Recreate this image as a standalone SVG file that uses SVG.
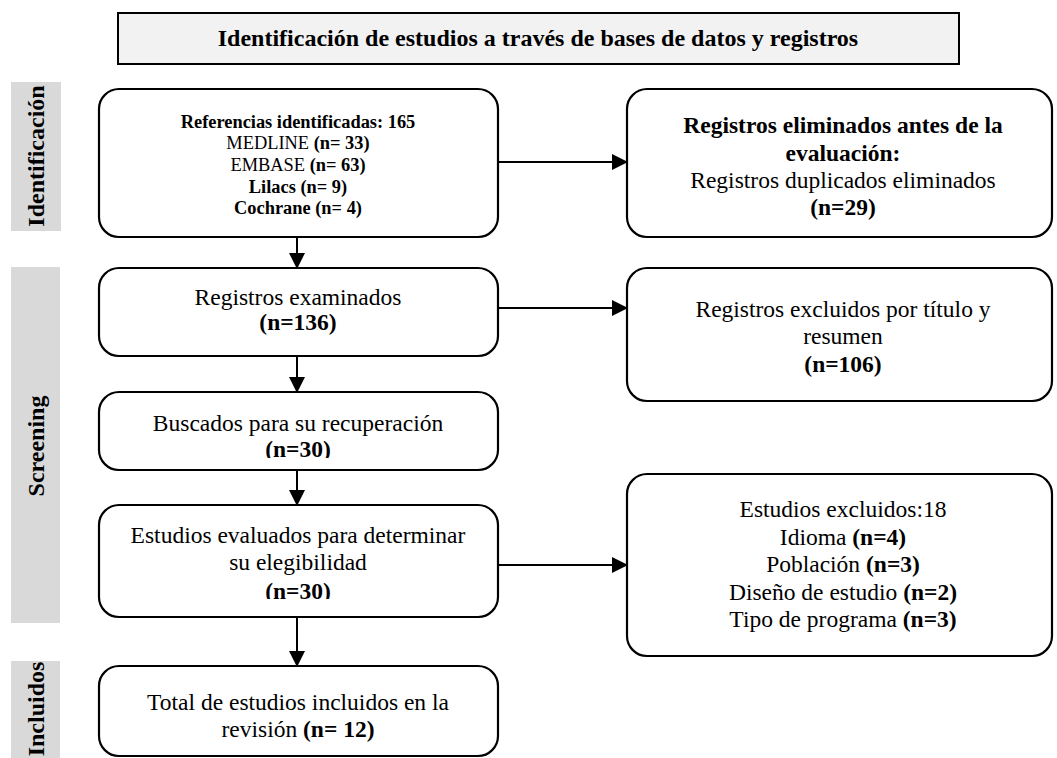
<svg xmlns="http://www.w3.org/2000/svg" width="1057" height="758" viewBox="0 0 1057 758">
<style>
  text { font-family: "Liberation Serif", "Times New Roman", serif; fill: #000; }
  .box { fill: #fff; stroke: #000; stroke-width: 2.2; }
  .title { fill: #f2f2f2; stroke: #000; stroke-width: 2; }
  .side { fill: #d9d9d9; stroke: none; }
  .sidet { font-size: 24px; font-weight: bold; }
  .t { font-size: 23.5px; text-anchor: middle; }
  .s { font-size: 18.4px; text-anchor: middle; }
  .b { font-weight: bold; }
  .conn { stroke: #000; stroke-width: 2; fill: none; }
</style>
<defs>
  <marker id="arr" markerWidth="16" markerHeight="16" viewBox="0 0 16 16" refX="15" refY="8" orient="auto" markerUnits="userSpaceOnUse">
    <path d="M0,0 L16,8 L0,16 Z" fill="#000"/>
  </marker>
  <clipPath id="clip3"><rect x="99" y="392" width="399" height="66"/></clipPath>
  <clipPath id="clip4"><rect x="99" y="505" width="399" height="94"/></clipPath>
</defs>

<g id="header">
  <rect class="title" x="118" y="13" width="841" height="51"/>
  <text x="538" y="46" font-size="24" font-weight="bold" text-anchor="middle">Identificación de estudios a través de bases de datos y registros</text>
</g>

<g id="phase-identificacion">
  <rect class="side" x="11" y="82" width="50" height="149"/>
  <text class="sidet" transform="translate(44,156) rotate(-90)" text-anchor="middle">Identificación</text>
</g>
<g id="phase-screening">
  <rect class="side" x="11" y="267" width="49" height="356"/>
  <text class="sidet" transform="translate(44,446) rotate(-90)" text-anchor="middle">Screening</text>
</g>
<g id="phase-incluidos">
  <rect class="side" x="11" y="661" width="49" height="110"/>
  <text class="sidet" transform="translate(44,709) rotate(-90)" text-anchor="middle">Incluidos</text>
</g>

<g id="connectors">
  <line class="conn" x1="297" y1="237" x2="297" y2="268" marker-end="url(#arr)"/>
  <line class="conn" x1="297" y1="356" x2="297" y2="392" marker-end="url(#arr)"/>
  <line class="conn" x1="297" y1="470" x2="297" y2="505" marker-end="url(#arr)"/>
  <line class="conn" x1="297" y1="617" x2="297" y2="666" marker-end="url(#arr)"/>
  <line class="conn" x1="498" y1="162" x2="627" y2="162" marker-end="url(#arr)"/>
  <line class="conn" x1="498" y1="308" x2="627" y2="308" marker-end="url(#arr)"/>
  <line class="conn" x1="498" y1="565" x2="627" y2="565" marker-end="url(#arr)"/>
</g>

<g id="node-identificadas">
  <rect class="box" x="99" y="89" width="399" height="148" rx="20"/>
  <text class="s b" x="298" y="128">Referencias identificadas: 165</text>
  <text class="s" x="298" y="149">MEDLINE <tspan class="b">(n= 33)</tspan></text>
  <text class="s" x="298" y="171">EMBASE <tspan class="b">(n= 63)</tspan></text>
  <text class="s b" x="298" y="193">Lilacs (n= 9)</text>
  <text class="s b" x="298" y="214">Cochrane (n= 4)</text>
</g>

<g id="node-eliminados">
  <rect class="box" x="627" y="89" width="425" height="148" rx="20"/>
  <text class="t b" x="843" y="133">Registros eliminados antes de la</text>
  <text class="t b" x="843" y="161">evaluación:</text>
  <text class="t" x="843" y="188">Registros duplicados eliminados</text>
  <text class="t b" x="843" y="215">(n=29)</text>
</g>

<g id="node-examinados">
  <rect class="box" x="99" y="268" width="399" height="88" rx="20"/>
  <text class="t" x="298" y="305">Registros examinados</text>
  <text class="t b" x="298" y="330">(n=136)</text>
</g>

<g id="node-excluidos-titulo">
  <rect class="box" x="627" y="268" width="425" height="133" rx="20"/>
  <text class="t" x="843" y="317">Registros excluidos por título y</text>
  <text class="t" x="843" y="344">resumen</text>
  <text class="t b" x="843" y="372">(n=106)</text>
</g>

<g id="node-buscados">
  <rect class="box" x="99" y="392" width="399" height="78" rx="20"/>
  <g clip-path="url(#clip3)">
    <text class="t" x="298" y="431">Buscados para su recuperación</text>
    <text class="t b" x="298" y="457">(n=30)</text>
  </g>
</g>

<g id="node-evaluados">
  <rect class="box" x="99" y="505" width="399" height="112" rx="20"/>
  <g clip-path="url(#clip4)">
    <text class="t" x="298" y="543">Estudios evaluados para determinar</text>
    <text class="t" x="298" y="570">su elegibilidad</text>
    <text class="t b" x="298" y="599">(n=30)</text>
  </g>
</g>

<g id="node-excluidos">
  <rect class="box" x="627" y="474" width="425" height="182" rx="20"/>
  <text class="t" x="843" y="517">Estudios excluidos:18</text>
  <text class="t" x="843" y="545">Idioma <tspan class="b">(n=4)</tspan></text>
  <text class="t" x="843" y="572">Población <tspan class="b">(n=3)</tspan></text>
  <text class="t" x="843" y="600">Diseño de estudio <tspan class="b">(n=2)</tspan></text>
  <text class="t" x="843" y="627">Tipo de programa <tspan class="b">(n=3)</tspan></text>
</g>

<g id="node-incluidos">
  <rect class="box" x="99" y="666" width="399" height="90" rx="20"/>
  <text class="t" x="298" y="710">Total de estudios incluidos en la</text>
  <text class="t" x="298" y="737">revisión <tspan class="b">(n= 12)</tspan></text>
</g>
</svg>
